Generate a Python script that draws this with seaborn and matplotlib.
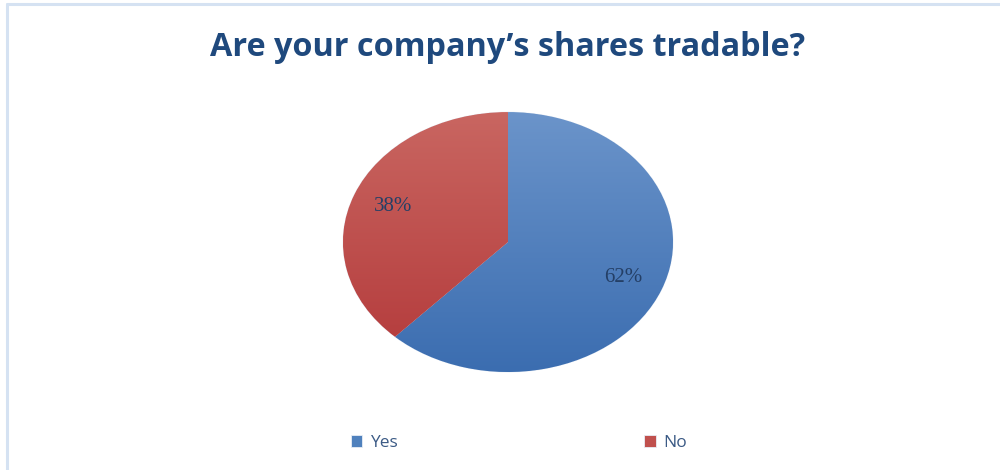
"""Pie chart: Are your company's shares tradable?"""

import matplotlib

matplotlib.use("Agg")

import matplotlib.pyplot as plt
import numpy as np
import seaborn as sns
from matplotlib.colors import LinearSegmentedColormap
from matplotlib.lines import Line2D

# Daten
categories = ["Yes", "No"]
shares = [62, 38]
pct_labels = ["62%", "38%"]

sns.set_theme(style="white")
plt.rcParams["font.family"] = ["Open Sans", "DejaVu Sans"]

fig = plt.figure(figsize=(10, 4.7), dpi=100)
fig.patch.set_facecolor("white")

# Rahmenlinien (Ausschnitt eines Diagrammrahmens)
frame_col = "#D5E2F2"
fig.add_artist(Line2D([0.0065, 0.0065], [0, 0.991], transform=fig.transFigure, color=frame_col, lw=2.2))
fig.add_artist(Line2D([0.0065, 1.0], [0.991, 0.991], transform=fig.transFigure, color=frame_col, lw=2.2))

# Achse so gewaehlt, dass der Kreis elliptisch erscheint
ax = fig.add_axes([0.343, 0.2085, 0.33, 0.553])
ax.set_xlim(-1, 1)
ax.set_ylim(-1, 1)
ax.set_aspect("auto")
ax.axis("off")

base_cols = ["#4F81BD", "#C0504D"]
wedges, _ = ax.pie(
    shares,
    colors=base_cols,
    startangle=90,
    counterclock=False,
    wedgeprops=dict(edgecolor="#E8EEF6", linewidth=0.6),
    frame=False,
)

# leichter Verlauf von oben (heller) nach unten (dunkler)
gradients = [("#6B94CA", "#3B6DB0"), ("#C96661", "#B3393A")]
grad = np.linspace(1, 0, 256).reshape(-1, 1)
for w, (top, bottom) in zip(wedges, gradients):
    cmap = LinearSegmentedColormap.from_list("g", [bottom, top])
    im = ax.imshow(grad, cmap=cmap, extent=[-1, 1, -1, 1], aspect="auto", zorder=w.get_zorder() + 0.1)
    im.set_clip_path(w)
ax.set_xlim(-1, 1)
ax.set_ylim(-1, 1)

# Prozentbeschriftungen
theta = 90.0
for w, lab, val in zip(wedges, pct_labels, shares):
    mid = np.deg2rad(theta - val / sum(shares) * 360 / 2)
    theta -= val / sum(shares) * 360
    ax.text(
        0.75 * np.cos(mid),
        0.75 * np.sin(mid),
        lab,
        ha="center",
        va="center",
        fontsize=15,
        color="#243F66",
        family=["Liberation Serif", "DejaVu Serif"],
        zorder=10,
    )

fig.text(
    0.508,
    0.9,
    "Are your company\u2019s shares tradable?",
    ha="center",
    va="center",
    fontsize=23.3,
    fontweight="bold",
    color="#1F497D",
)

leg = fig.legend(
    wedges,
    categories,
    loc="center",
    bbox_to_anchor=(0.519, 0.057),
    ncol=2,
    frameon=False,
    fontsize=12.5,
    handlelength=0.65,
    handleheight=0.65,
    handletextpad=0.45,
    columnspacing=14.2,
)
for t in leg.get_texts():
    t.set_color("#3B5A85")

fig.savefig("out.png", dpi=100, facecolor="white")
plt.close(fig)
